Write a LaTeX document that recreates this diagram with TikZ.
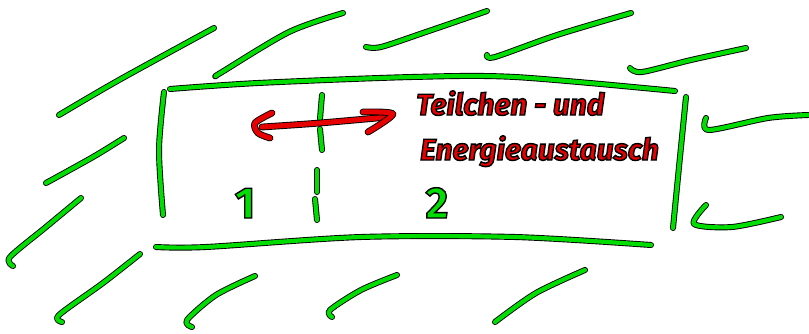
\documentclass[tikz,border=0pt]{standalone}
\usepackage{fontspec}
\setmainfont{Fira Sans}
\definecolor{sgreen}{HTML}{00DD00}
\definecolor{sred}{HTML}{E60000}
% black rim round filled letters
\newcommand{\rimmed}[1]{\special{pdf:code q 2 Tr 1.4 w 0 0 0 RG}#1\special{pdf:code Q}}
\tikzset{
  pen/.style={draw=black, line width=0.9pt, double=sgreen, double distance=4.2pt, line cap=round, line join=round},
  redpen/.style={pen, double=sred, double distance=5pt},
  digit/.style={text=sgreen, font=\bfseries\fontsize{44}{44}\selectfont, inner sep=0pt, anchor=base},
  note/.style={text=sred, font=\bfseries\itshape\fontsize{30}{30}\selectfont, inner sep=0pt, anchor=base west},
}

\begin{document}
\begin{tikzpicture}[x=1pt, y=-1pt]
  \useasboundingbox (0,0) rectangle (809,333);
  % hatching above
  \draw[pen] plot[smooth] coordinates {(59,115) (119,80) (214,28)};
  \draw[pen] plot[smooth] coordinates {(216,76) (222,72) (289,32) (343,13)};
  \draw[pen] plot[smooth] coordinates {(366,47) (381,47) (423,33) (487,11)};
  \draw[pen] plot[smooth] coordinates {(487,55) (495,57) (557,35) (631,13)};
  \draw[pen] plot[smooth] coordinates {(630,68) (642,72) (691,60) (746,48)};
  % hatching right
  \draw[pen] plot[smooth] coordinates {(706,118) (709,130) (768,118) (808,115)};
  \draw[pen] plot[smooth] coordinates {(706,205) (694,224) (732,227) (781,217)};
  % hatching left
  \draw[pen] plot[smooth] coordinates {(46,183) (93,157) (124,138)};
  \draw[pen] plot[smooth] coordinates {(13,266) (10,257) (46,227) (81,198)};
  % hatching below
  \draw[pen] plot[smooth] coordinates {(62,322) (59,315) (103,283) (140,254)};
  \draw[pen] plot[smooth] coordinates {(192,327) (187,320) (216,295) (255,276)};
  \draw[pen] plot[smooth] coordinates {(332,317) (330,310) (361,290) (397,275)};
  \draw[pen] plot[smooth] coordinates {(495,322) (536,293) (585,270)};

  % the box
  \draw[pen] plot[smooth] coordinates {(170,89) (258,83) (412,77) (515,77) (675,91)};
  \draw[pen] plot[smooth] coordinates {(164,92) (159,150) (163,215)};
  \draw[pen] plot[smooth] coordinates {(686,97) (679,167) (673,228)};
  \draw[pen] plot[smooth] coordinates {(156,247) (206,247) (361,237) (515,237) (651,245)};

  % wall between 1 and 2
  \draw[pen] (322,95) -- (320,119);
  \draw[pen] (320,129) -- (322,150);
  \draw[pen] (317,170) -- (317,192);
  \draw[pen] (315,199) -- (317,220);

  \node[digit] (one) at (245,218) {\rimmed{1}};
  \node[digit] (two) at (437,218) {\rimmed{2}};

  % exchange arrow
  \draw[redpen] plot[smooth] coordinates {(262,127) (320,123) (388,117)};
  \draw[redpen] plot[smooth] coordinates {(272,113) (255,123) (258,133) (270,138)};
  \draw[redpen] plot[smooth] coordinates {(363,112) (393,114) (368,132)};

  \node[note] (line1) at (416,115) {\rimmed{Teilchen - und}};
  \node[note] (line2) at (420,160) {\rimmed{Energieaustausch}};
\end{tikzpicture}
\end{document}
